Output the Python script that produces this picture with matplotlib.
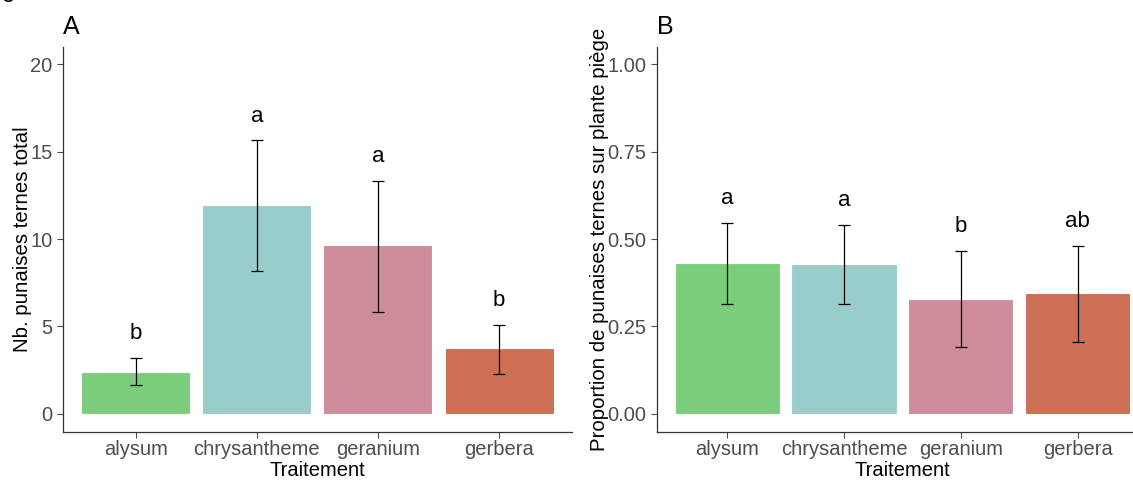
import matplotlib.pyplot as plt

plt.rcParams['font.family'] = ['Liberation Sans', 'DejaVu Sans']

traitements = ["alysum", "chrysantheme", "geranium", "gerbera"]
couleurs = ["#7bcd7b", "#98cdcc", "#cd8c99", "#cd6f54"]

# A: total number of bugs
total_moy = [2.4, 11.95, 9.65, 3.75]
total_bas = [1.65, 8.2, 5.85, 2.3]
total_haut = [3.2, 15.65, 13.35, 5.1]
total_lettres = ["b", "a", "a", "b"]

# B: proportion on the trap plant
prop_moy = [0.432, 0.430, 0.327, 0.345]
prop_bas = [0.315, 0.315, 0.19, 0.205]
prop_haut = [0.545, 0.54, 0.467, 0.48]
prop_lettres = ["a", "a", "b", "ab"]


def panel(ax, moy, bas, haut, lettres, ylim, yticks, ylabels, ylab, tag, offset):
    x = range(len(traitements))
    ax.bar(x, moy, width=0.9, color=couleurs, edgecolor="#ffffff", linewidth=0.8, zorder=2)
    err = [[m - b for m, b in zip(moy, bas)], [h - m for m, h in zip(moy, haut)]]
    ax.errorbar(x, moy, yerr=err, fmt="none", ecolor="black", elinewidth=0.9,
                capsize=4.5, capthick=0.9, zorder=3)
    for xi, h, lab in zip(x, haut, lettres):
        ax.text(xi, h + offset, lab, ha="center", va="center", fontsize=16, color="black")
    ax.set_xlim(-0.6, len(traitements) - 0.4)
    ax.set_ylim(*ylim)
    ax.set_yticks(yticks)
    ax.set_yticklabels(ylabels)
    ax.set_xticks(list(x))
    ax.set_xticklabels(traitements)
    ax.tick_params(axis="both", colors="#4d4d4d", labelsize=14.5, length=4, width=0.8,
                   labelcolor="#4d4d4d")
    ax.tick_params(axis="x", pad=2)
    for s in ["top", "right"]:
        ax.spines[s].set_visible(False)
    for s in ["left", "bottom"]:
        ax.spines[s].set_color("#333333")
        ax.spines[s].set_linewidth(0.9)
    ax.set_xlabel("Traitement", fontsize=14.5, color="black", labelpad=1)
    ax.set_ylabel(ylab, fontsize=14.7, color="black", labelpad=-1)
    ax.text(0.0, 1.02, tag, transform=ax.transAxes, fontsize=18, ha="left", va="bottom")


fig = plt.figure(figsize=(11.33, 4.8), dpi=100)
ax1 = fig.add_axes([0.0556, 0.1, 0.449, 0.802])
ax2 = fig.add_axes([0.580, 0.1, 0.433, 0.802])

panel(ax1, total_moy, total_bas, total_haut, total_lettres, (-1.05, 21.0),
      [0, 5, 10, 15, 20], ["0", "5", "10", "15", "20"],
      "Nb. punaises ternes total", "A", 1.4)
panel(ax2, prop_moy, prop_bas, prop_haut, prop_lettres, (-0.0525, 1.05),
      [0, 0.25, 0.5, 0.75, 1.0], ["0.00", "0.25", "0.50", "0.75", "1.00"],
      "Proportion de punaises ternes sur plante piège", "B", 0.07)

# descender of a caption sitting above the figure
fig.text(0.002, 1.0 + 3 / 480, "g", fontsize=17, ha="left", va="baseline")

fig.savefig("out.png", dpi=100)
